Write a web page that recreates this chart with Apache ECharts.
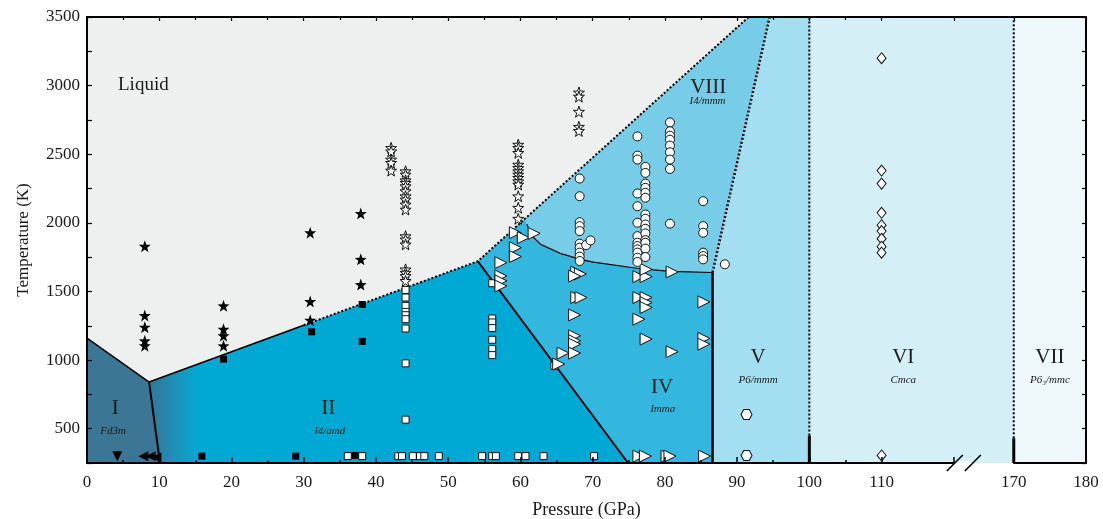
<!DOCTYPE html>
<html>
<head>
<meta charset="utf-8">
<script src="https://cdn.jsdelivr.net/npm/echarts@6/dist/echarts.min.js"></script>
<style>
  html, body { margin: 0; padding: 0; background: #fff; }
  #chart { width: 1103px; height: 519px; }
</style>
</head>
<body>
<div id="chart"></div>
<script>
// all points are [pressure (GPa), temperature (K)]

// phase fields
var phaseI = [[0, 250], [0, 1160], [8.6, 840], [10.1, 250]]
var phaseII = [[10.1, 250], [8.6, 840], [54.1, 1720], [74.9, 250]]
var phaseIV = [[74.9, 250], [54.1, 1720], [60.6, 2030], [60.9, 1990], [61.5, 1910], [62.8, 1843], [65.5, 1778], [68.3, 1734], [70.1, 1714], [76.1, 1669], [80.7, 1647], [86.6, 1638], [86.6, 250]]
var phaseVIII = [[60.6, 2030], [91.6, 3500], [94.5, 3500], [86.6, 1638], [80.7, 1647], [76.1, 1669], [70.1, 1714], [68.3, 1734], [65.5, 1778], [62.8, 1843], [61.5, 1910], [60.9, 1990]]
var phaseV = [[86.6, 250], [86.6, 1638], [94.5, 3500], [100, 3500], [100, 250]]
var phaseVI = [[100, 250], [100, 3500], [170, 3500], [170, 250]]
var phaseVII = [[170, 250], [170, 3500], [180, 3500], [180, 250]]

// boundaries
var meltI = [[0, 1160], [8.6, 840]]
var meltIISolid = [[8.6, 840], [30, 1254]]
var meltDotted = [[30, 1254], [54.1, 1720], [91.6, 3500]]
var lineI_II = [[8.6, 840], [10.1, 250]]
var lineII_IV = [[54.1, 1720], [74.9, 250]]
var lineIV_VIII = [[60.9, 1990], [61.5, 1910], [62.8, 1843], [65.5, 1778], [68.3, 1734], [70.1, 1714], [76.1, 1669], [80.7, 1647], [86.6, 1638]]
var lineIV_V = [[86.6, 250], [86.6, 1638]]
var lineVIII_V = [[86.6, 1638], [94.5, 3500]]
var lineV_VI_dot = [[100, 450], [100, 3500]]
var lineV_VI_solid = [[100, 250], [100, 450]]
var lineVI_VII_dot = [[170, 430], [170, 3500]]
var lineVI_VII_solid = [[170, 250], [170, 430]]

// measurements
var filledStars = [[8, 1830], [8, 1325], [8, 1240], [8, 1140], [8, 1105],
  [18.9, 1395], [18.9, 1225], [18.9, 1177], [18.9, 1104],
  [30.9, 1928], [30.9, 1427], [30.9, 1291],
  [37.9, 2068], [37.9, 1734], [37.9, 1550]]
var openStars = [[42.1, 2546], [42.1, 2521], [42.1, 2461], [42.1, 2437], [42.1, 2381],
  [44.1, 2376], [44.1, 2352], [44.1, 2310], [44.1, 2292], [44.1, 2267], [44.1, 2231], [44.1, 2194], [44.1, 2170],
  [44.1, 2134], [44.1, 2097], [44.1, 1903], [44.1, 1879], [44.1, 1843], [44.1, 1661], [44.1, 1637], [44.1, 1613], [44.1, 1577],
  [59.7, 2570], [59.7, 2546], [59.7, 2510], [59.7, 2424], [59.7, 2400], [59.7, 2376], [59.7, 2352], [59.7, 2328],
  [59.7, 2303], [59.7, 2279], [59.7, 2194], [59.7, 2110], [59.7, 2030],
  [68.1, 2950], [68.1, 2920], [68.1, 2810], [68.1, 2700], [68.1, 2670]]
var filledSquares = [[18.9, 1007], [31.1, 1206], [38.1, 1405], [38.1, 1136], [15.9, 300], [28.9, 300], [37.1, 305]]
var openSquares = [[36.1, 300], [38.1, 300], [43.1, 300], [43.6, 300], [45.1, 300], [46.1, 300], [46.7, 300], [48.7, 300],
  [54.7, 300], [56.1, 300], [56.6, 300], [59.7, 300], [60.7, 300], [63.2, 300], [70.2, 300],
  [44.1, 1511], [44.1, 1456], [44.1, 1395], [44.1, 1351], [44.1, 1327], [44.1, 1298], [44.1, 1230], [44.1, 976], [44.1, 566],
  [56.1, 1560], [56.1, 1303], [56.1, 1274], [56.1, 1233], [56.1, 1148], [56.1, 1080], [56.1, 1036],
  [64.7, 959]]
var openTriangles = [[59.3, 1928], [60.4, 1892], [61.9, 1923], [59.3, 1819], [59.3, 1754],
  [57.3, 1710], [57.3, 1613], [57.3, 1577], [57.3, 1540],
  [67.8, 1640], [68.3, 1628], [67.5, 1612], [67.8, 1456], [68.4, 1456], [67.5, 1329],
  [67.5, 1177], [67.5, 1141], [67.5, 1116], [67.5, 1051], [65.9, 1051], [65.3, 971],
  [76.4, 1608], [77.4, 1608], [77.4, 1661], [76.4, 1456], [77.4, 1456], [77.4, 1419], [77.4, 1383], [76.4, 1298], [77.4, 1153],
  [81, 1642], [81, 1061], [85.4, 1424], [85.4, 1158], [85.4, 1116],
  [76.4, 300], [77.3, 300], [80.3, 300], [80.7, 300], [85.5, 300]]
var openCircles = [[68.2, 2323], [68.2, 2194], [68.2, 2005], [68.2, 1976], [68.2, 1940], [68.2, 1848], [68.2, 1819],
  [68.2, 1783], [68.2, 1754], [68.2, 1722], [69.1, 1838], [69.7, 1872],
  [76.2, 2630], [76.2, 2490], [76.2, 2461], [76.2, 2214], [76.2, 2121], [76.2, 2001], [76.2, 1903], [76.2, 1855],
  [76.2, 1831], [76.2, 1807], [76.2, 1783], [76.2, 1746], [76.2, 1715],
  [77.3, 2408], [77.3, 2364], [77.3, 2286], [77.3, 2255], [77.3, 2219], [77.3, 2183], [77.3, 2061], [77.3, 2030],
  [77.3, 1988], [77.3, 1957], [77.3, 1923], [77.3, 1874], [77.3, 1855], [77.3, 1812], [77.3, 1751],
  [80.7, 2732], [80.7, 2667], [80.7, 2635], [80.7, 2606], [80.7, 2563], [80.7, 2514], [80.7, 2461], [80.7, 2393], [80.7, 1994],
  [85.3, 2158], [85.3, 1976], [85.3, 1928], [85.3, 1783], [85.3, 1758], [85.3, 1734],
  [88.3, 1698]]
var hexagons = [[91.3, 603], [91.3, 305]]
var diamonds = [[110, 3200], [110, 2381], [110, 2286], [110, 2073], [110, 1983], [110, 1940], [110, 1884], [110, 1826], [110, 1783], [110, 305]]
var filledDown = [[4.2, 300]]
var filledLeft = [[7.8, 300], [8.8, 300], [9.6, 290]]

// phase names
var phaseNames = ['Liquid', 'I', 'II', 'IV', 'V', 'VI', 'VII', 'VIII']
var phaseNamePos = [[7.8, 3006], [3.9, 644], [33.4, 644], [79.6, 797], [92.9, 1022], [113, 1022], [175, 1022], [86, 2984]]
var spaceGroups = ['Fd3m', 'I4/amd', 'Imma', 'P6/mmm', 'Cmca', 'P6₃/mmc', 'I4/mmm']
var spaceGroupPos = [[3.6, 484], [33.6, 484], [79.7, 644], [92.9, 855], [113, 855], [175, 855], [85.9, 2890]]

var regionShapes = [phaseI, phaseII, phaseIV, phaseVIII, phaseV, phaseVI, phaseVII]
var regionColors = ['#3b7695', '#00a8d4', '#33b7de', '#77cde8', '#a3dff0', '#d5eff7', '#eef8fb']

var serif = 'Liberation Serif'
var chart = echarts.init(document.getElementById('chart'))

function renderRegion (params, api) {
  var idx = api.value(0)
  var pts = regionShapes[idx].map(function (p) { return api.coord(p) })
  var fill = regionColors[idx]
  if (idx === 1) {
    // I -> II blend on the left of field II
    var a = api.coord([9.5, 250])
    var b = api.coord([15.5, 250])
    fill = new echarts.graphic.LinearGradient(a[0], 0, b[0], 0, [
      { offset: 0, color: '#2f7d9e' },
      { offset: 0.85, color: '#0aa4cf' },
      { offset: 1, color: '#00a8d4' }
    ], true)
  }
  return { type: 'polygon', shape: { points: pts }, style: { fill: fill } }
}

function renderText (params, api) {
  var i = params.dataIndex
  var p = api.coord(phaseNamePos[i])
  return {
    type: 'text', x: p[0], y: p[1],
    style: { text: phaseNames[i], font: (i === 0 ? '19px ' : '21px ') + serif, fill: '#1a1a1a', align: 'center', verticalAlign: 'middle' }
  }
}

function renderGroup (params, api) {
  var i = params.dataIndex
  var p = api.coord(spaceGroupPos[i])
  return {
    type: 'text', x: p[0], y: p[1],
    style: { text: spaceGroups[i], font: 'italic 11px ' + serif, fill: '#1a1a1a', align: 'center', verticalAlign: 'middle' }
  }
}

// "//" marks on the broken axis, plus the frame top across the gap
function renderBreak (params, api) {
  var a = api.coord([120, 250])
  var t0 = api.coord([120, 3500])
  var t1 = api.coord([170, 3500])
  var cx = a[0] + 10
  var y = a[1]
  var d = 8
  return {
    type: 'group',
    children: [
      { type: 'line', shape: { x1: t0[0] - 2, y1: t0[1], x2: t1[0] + 2, y2: t1[1] }, style: { stroke: '#000', lineWidth: 2 } },
      { type: 'polygon', shape: { points: [[cx - 8, y + 2.5], [cx - 4, y - 2], [cx + 6, y - 2], [cx + 2, y + 2.5]] }, style: { fill: '#fff' } },
      { type: 'line', shape: { x1: cx - 17, y1: y + d, x2: cx - 1, y2: y - d }, style: { stroke: '#000', lineWidth: 1.6 } },
      { type: 'line', shape: { x1: cx + 1, y1: y + d, x2: cx + 17, y2: y - d }, style: { stroke: '#000', lineWidth: 1.6 } }
    ]
  }
}

function boundary (data, width, dotted) {
  return {
    type: 'line', data: data, symbol: 'none', silent: true, z: 5,
    lineStyle: { color: '#000', width: width, type: dotted ? [2, 2] : 'solid', cap: 'butt' }
  }
}

function marks (data, symbol, size, fill, rotate) {
  return {
    type: 'scatter', data: data, symbol: symbol, symbolSize: size, symbolRotate: rotate || 0, z: 8, silent: true,
    itemStyle: { color: fill, borderColor: '#111', borderWidth: fill === '#000' ? 0 : 1, opacity: 1 }
  }
}

var starPath = 'path://M0,-10L2.35,-3.24L9.51,-3.09L3.8,1.24L5.88,8.09L0,4L-5.88,8.09L-3.8,1.24L-9.51,-3.09L-2.35,-3.24Z'
var hexPath = 'path://M-5,0L-2.5,-4.33L2.5,-4.33L5,0L2.5,4.33L-2.5,4.33Z'

var xBreaks = [{ start: 120, end: 170, gap: '6%' }]
var xBreakArea = { show: false, expandOnClick: false, itemStyle: { color: 'rgba(0,0,0,0)', borderColor: 'rgba(0,0,0,0)', borderWidth: 0, opacity: 0 } }
var axisFont = { fontFamily: serif, fontSize: 17, color: '#1a1a1a' }

function xLabel (v) {
  return (v % 10 === 0 && v !== 120) ? String(v) : ''
}

var option = {
  animation: false,
  grid: {
    left: 87, right: 17, top: 17, bottom: 56, show: true, backgroundColor: '#eef0f0', borderWidth: 0,
    containLabel: false, outerBoundsMode: 'none'
  },
  xAxis: [{
    type: 'value', position: 'bottom', min: 0, max: 180, interval: 10, z: 10,
    breaks: xBreaks,
    breakArea: xBreakArea,
    name: 'Pressure (GPa)', nameLocation: 'middle', nameGap: 38,
    nameTextStyle: { fontFamily: serif, fontSize: 18, color: '#1a1a1a' },
    axisLine: { lineStyle: { color: '#000', width: 2 } },
    axisTick: { inside: true, length: 6, lineStyle: { color: '#000', width: 1.5 } },
    minorTick: { show: true, splitNumber: 2, length: 3, lineStyle: { color: '#000', width: 1.5 } },
    axisLabel: Object.assign({ margin: 11, formatter: xLabel }, axisFont),
    splitLine: { show: false }
  }, {
    type: 'value', position: 'top', min: 0, max: 180, interval: 10, z: 10,
    breaks: xBreaks,
    breakArea: xBreakArea,
    axisLine: { onZero: false, lineStyle: { color: '#000', width: 2 } },
    axisTick: { inside: true, length: 4, lineStyle: { color: '#000', width: 1.2 } },
    minorTick: { show: true, splitNumber: 2, length: 3, lineStyle: { color: '#000', width: 1.2 } },
    axisLabel: { show: false },
    splitLine: { show: false }
  }],
  yAxis: [{
    type: 'value', position: 'left', min: 250, max: 3500, interval: 250, z: 10,
    name: 'Temperature (K)', nameLocation: 'middle', nameGap: 55,
    nameTextStyle: { fontFamily: serif, fontSize: 17, color: '#1a1a1a' },
    axisLine: { onZero: false, lineStyle: { color: '#000', width: 2 } },
    axisTick: { inside: true, length: 5, lineStyle: { color: '#000', width: 1.2 } },
    axisLabel: Object.assign({ margin: 7, formatter: function (v) { return v % 500 === 0 ? String(v) : '' } }, axisFont),
    splitLine: { show: false }
  }, {
    type: 'value', position: 'right', min: 250, max: 3500, interval: 250, z: 10,
    axisLine: { onZero: false, lineStyle: { color: '#000', width: 2 } },
    axisTick: { inside: true, length: 4, lineStyle: { color: '#000', width: 1.2 } },
    axisLabel: { show: false },
    splitLine: { show: false }
  }],
  series: [
    { type: 'custom', renderItem: renderRegion, data: regionShapes.map(function (s, i) { return [i, 1000] }), z: 1, silent: true, clip: true },
    boundary(meltI, 1.5, false),
    boundary(meltIISolid, 1.5, false),
    boundary(meltDotted, 2, true),
    boundary(lineI_II, 2, false),
    boundary(lineII_IV, 2, false),
    boundary(lineIV_VIII, 1.2, false),
    boundary(lineIV_V, 2.5, false),
    boundary(lineVIII_V, 2.5, true),
    boundary(lineV_VI_dot, 2, true),
    boundary(lineV_VI_solid, 3, false),
    boundary(lineVI_VII_dot, 2, true),
    boundary(lineVI_VII_solid, 3, false),
    { type: 'custom', renderItem: renderText, data: phaseNames.map(function (s, i) { return [phaseNamePos[i][0], phaseNamePos[i][1]] }), z: 6, silent: true },
    { type: 'custom', renderItem: renderGroup, data: spaceGroups.map(function (s, i) { return [spaceGroupPos[i][0], spaceGroupPos[i][1]] }), z: 6, silent: true },
    marks(filledStars, starPath, 12, '#000'),
    marks(openStars, starPath, 11, '#fff'),
    marks(filledSquares, 'rect', 7, '#000'),
    marks(openSquares, 'rect', 7, '#fff'),
    marks(openTriangles, 'triangle', 12, '#fff', -90),
    marks(openCircles, 'circle', 9, '#fff'),
    marks(hexagons, hexPath, [11, 10], '#fff'),
    marks(diamonds, 'diamond', [9, 11], '#fff'),
    marks(filledDown, 'triangle', 10, '#000', 180),
    marks(filledLeft, 'triangle', 10, '#000', 90),
    { type: 'custom', renderItem: renderBreak, data: [[100, 1000]], z: 30, silent: true, clip: false }
  ]
}

chart.setOption(option)
</script>
</body>
</html>
